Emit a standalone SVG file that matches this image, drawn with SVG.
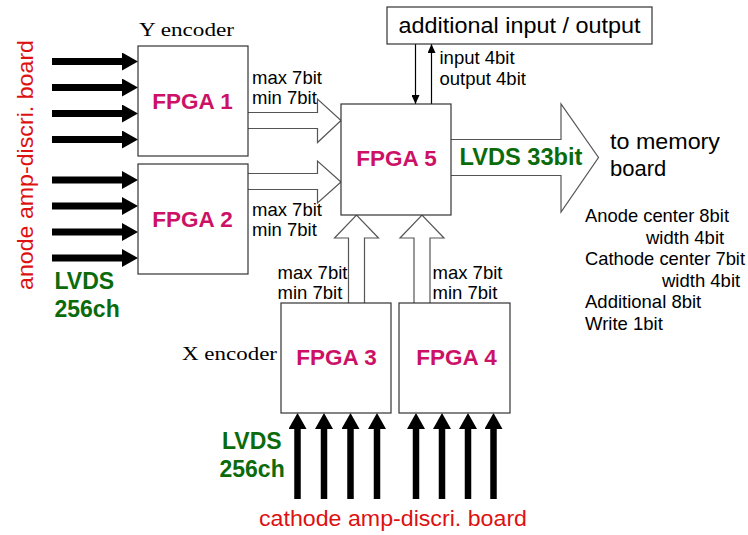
<svg xmlns="http://www.w3.org/2000/svg" width="748" height="535" viewBox="0 0 748 535">
<defs>
<style>
.box{fill:#fff;stroke:#333;stroke-width:1.2}
.hol{fill:#fff;stroke:#555;stroke-width:1.2;stroke-linejoin:miter}
.thick{stroke:#000;stroke-width:7;fill:none}
.thin{stroke:#000;stroke-width:1.2;fill:none}
.fp{font-family:"Liberation Sans",Arial,sans-serif;font-weight:bold;font-size:22.5px;fill:#cc1166}
.lab{font-family:"Liberation Sans",Arial,sans-serif;font-size:18.5px;fill:#000}
.big{font-family:"Liberation Sans",Arial,sans-serif;font-size:22px;fill:#000}
.grn{font-family:"Liberation Sans",Arial,sans-serif;font-weight:bold;font-size:23px;fill:#0b6b0b}
.red{font-family:"Liberation Sans",Arial,sans-serif;font-size:22px;fill:#dd1111}
.ser{font-family:"Liberation Serif","Times New Roman",serif;font-size:18px;fill:#000}
</style>
<marker id="ah" viewBox="0 0 16 18" refX="2" refY="9" markerWidth="16" markerHeight="18" orient="auto" markerUnits="userSpaceOnUse">
<path d="M0,0 L16,9 L0,18 Z" fill="#000"/>
</marker>
<marker id="sh" viewBox="0 0 9 8" refX="9" refY="4" markerWidth="9" markerHeight="8" orient="auto" markerUnits="userSpaceOnUse">
<path d="M0,0 L9,4 L0,8 Z" fill="#000"/>
</marker>
</defs>

<g id="connectors">
<!-- anode inputs -->
<g class="thick" marker-end="url(#ah)">
<line x1="52" y1="61.5" x2="124" y2="61.5"/>
<line x1="52" y1="87.5" x2="124" y2="87.5"/>
<line x1="52" y1="113.5" x2="124" y2="113.5"/>
<line x1="52" y1="139.5" x2="124" y2="139.5"/>
<line x1="52" y1="180" x2="124" y2="180"/>
<line x1="52" y1="206" x2="124" y2="206"/>
<line x1="52" y1="232" x2="124" y2="232"/>
<line x1="52" y1="258" x2="124" y2="258"/>
</g>
<!-- cathode inputs -->
<g class="thick" marker-end="url(#ah)" style="stroke-width:6.5">
<line x1="297.5" y1="499" x2="297.5" y2="427"/>
<line x1="324" y1="499" x2="324" y2="427"/>
<line x1="350.5" y1="499" x2="350.5" y2="427"/>
<line x1="377" y1="499" x2="377" y2="427"/>
<line x1="416" y1="499" x2="416" y2="427"/>
<line x1="442" y1="499" x2="442" y2="427"/>
<line x1="468" y1="499" x2="468" y2="427"/>
<line x1="493.5" y1="499" x2="493.5" y2="427"/>
</g>
<!-- hollow arrows -->
<path class="hol" d="M248,112.5 H317.5 V99 L341,120.5 L317.5,142.5 V128.5 H248"/>
<path class="hol" d="M248,173.5 H317.5 V161 L341,182 L317.5,203 V189.5 H248"/>
<path class="hol" d="M348.5,303 V238 H334.5 L356.5,215 L378.5,238 H364.5 V303"/>
<path class="hol" d="M414,303 V238 H400 L422,215 L444,238 H430 V303"/>
<path class="hol" d="M451,139.5 H561 V104 L598.5,157.5 L561,212 V175.5 H451"/>
<!-- additional io -->
<line class="thin" x1="415.5" y1="44" x2="415.5" y2="104" marker-end="url(#sh)"/>
<line class="thin" x1="431.5" y1="104" x2="431.5" y2="44" marker-end="url(#sh)"/>
</g>

<g id="fpga1"><rect class="box" x="138" y="46" width="110" height="110"/><text class="fp" x="192.5" y="108.5" text-anchor="middle">FPGA 1</text></g>
<g id="fpga2"><rect class="box" x="138" y="164" width="110" height="110"/><text class="fp" x="192.5" y="226.5" text-anchor="middle">FPGA 2</text></g>
<g id="fpga5"><rect class="box" x="341" y="104" width="110" height="111"/><text class="fp" x="396.5" y="165.5" text-anchor="middle">FPGA 5</text></g>
<g id="fpga3"><rect class="box" x="281" y="303" width="110" height="110"/><text class="fp" x="336.5" y="365" text-anchor="middle">FPGA 3</text></g>
<g id="fpga4"><rect class="box" x="399" y="303" width="111" height="110"/><text class="fp" x="456.5" y="365" text-anchor="middle">FPGA 4</text></g>
<g id="additional"><rect class="box" x="387" y="7" width="265" height="37"/><text class="big" x="398.5" y="32.5" textLength="242" lengthAdjust="spacingAndGlyphs">additional input / output</text></g>

<g id="labels">
<text class="ser" x="139" y="36" textLength="95" lengthAdjust="spacingAndGlyphs">Y encoder</text>
<text class="ser" x="182" y="359.5" textLength="95" lengthAdjust="spacingAndGlyphs">X encoder</text>
<text class="lab" x="252" y="83.5">max 7bit</text>
<text class="lab" x="252" y="103.5">min 7bit</text>
<text class="lab" x="252" y="215.5">max 7bit</text>
<text class="lab" x="252" y="235.5">min 7bit</text>
<text class="lab" x="277.5" y="278.5">max 7bit</text>
<text class="lab" x="277.5" y="299">min 7bit</text>
<text class="lab" x="432.5" y="278.5">max 7bit</text>
<text class="lab" x="432.5" y="299">min 7bit</text>
<text class="lab" x="439.5" y="63.5">input 4bit</text>
<text class="lab" x="439.5" y="85">output 4bit</text>
<text class="grn" x="459.5" y="165" textLength="123" lengthAdjust="spacingAndGlyphs">LVDS 33bit</text>
<text class="big" x="610" y="148.5" textLength="110" lengthAdjust="spacingAndGlyphs">to memory</text>
<text class="big" x="610" y="176">board</text>
<text class="lab" x="585" y="222" textLength="144" lengthAdjust="spacingAndGlyphs">Anode center 8bit</text>
<text class="lab" x="646" y="243.5">width 4bit</text>
<text class="lab" x="585" y="265" textLength="160" lengthAdjust="spacingAndGlyphs">Cathode center 7bit</text>
<text class="lab" x="662" y="287">width 4bit</text>
<text class="lab" x="585" y="308">Additional 8bit</text>
<text class="lab" x="585" y="329.5">Write 1bit</text>
<text class="red" transform="translate(33,290) rotate(-90)" textLength="250" lengthAdjust="spacingAndGlyphs">anode amp-discri. board</text>
<text class="grn" x="54.5" y="289">LVDS</text>
<text class="grn" x="54.5" y="317">256ch</text>
<text class="grn" x="222" y="448.5">LVDS</text>
<text class="grn" x="219.5" y="477">256ch</text>
<text class="red" x="259" y="526" textLength="268" lengthAdjust="spacingAndGlyphs">cathode amp-discri. board</text>
</g>
</svg>
